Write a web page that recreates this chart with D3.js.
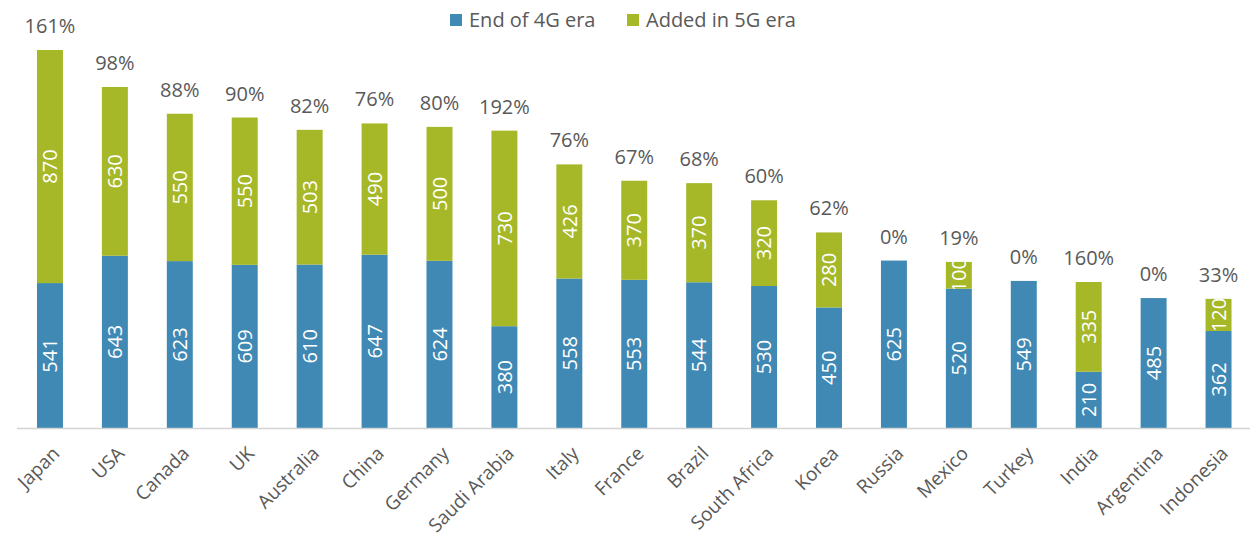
<!DOCTYPE html>
<html>
<head>
<meta charset="utf-8">
<script src="https://cdn.jsdelivr.net/npm/d3@7"></script>
<style>
  body { margin: 0; background: #fff; }
  text { font-family: 'Open Sans', 'Noto Sans', sans-serif; }
</style>
</head>
<body>
<div id="chart"></div>
<script>
const countries = ['Japan', 'USA', 'Canada', 'UK', 'Australia', 'China', 'Germany', 'Saudi Arabia', 'Italy', 'France',
  'Brazil', 'South Africa', 'Korea', 'Russia', 'Mexico', 'Turkey', 'India', 'Argentina', 'Indonesia'];
const end4G = [541, 643, 623, 609, 610, 647, 624, 380, 558, 553, 544, 530, 450, 625, 520, 549, 210, 485, 362];
const added5G = [870, 630, 550, 550, 503, 490, 500, 730, 426, 370, 370, 320, 280, 0, 100, 0, 335, 0, 120];
const pctLabels = ['161%', '98%', '88%', '90%', '82%', '76%', '80%', '192%', '76%', '67%',
  '68%', '60%', '62%', '0%', '19%', '0%', '160%', '0%', '33%'];
const seriesNames = ['End of 4G era', 'Added in 5G era'];
const colors = ['#3f89b4', '#a6b828'];

const W = 1250, H = 547;
const baseY = 428;

const svg = d3.select('#chart').append('svg')
  .attr('width', W).attr('height', H);

const x = d3.scaleBand()
  .domain(countries)
  .range([17.5, 1251])
  .paddingInner(0.6)
  .paddingOuter(0.3);

const y = d3.scaleLinear()
  .domain([0, 1500])
  .range([baseY, baseY - 1500 * 0.2679]);

const rows = countries.map(function(c, i) {
  return { country: c, a: end4G[i], b: added5G[i], pct: pctLabels[i] };
});

// segments
const segs = [];
rows.forEach(function(r, i) {
  segs.push({ country: r.country, y0: 0, y1: r.a, v: r.a, s: 0, id: 'c' + i + 'a' });
  if (r.b > 0) segs.push({ country: r.country, y0: r.a, y1: r.a + r.b, v: r.b, s: 1, id: 'c' + i + 'b' });
});

const defs = svg.append('defs');
defs.selectAll('clipPath').data(segs).enter().append('clipPath')
    .attr('id', function(d) { return d.id; })
  .append('rect')
    .attr('x', function(d) { return x(d.country); })
    .attr('y', function(d) { return y(d.y1); })
    .attr('width', x.bandwidth())
    .attr('height', function(d) { return y(d.y0) - y(d.y1); });

svg.append('g').selectAll('rect').data(segs).enter().append('rect')
    .attr('x', function(d) { return x(d.country); })
    .attr('y', function(d) { return y(d.y1); })
    .attr('width', x.bandwidth())
    .attr('height', function(d) { return y(d.y0) - y(d.y1); })
    .style('fill', function(d) { return colors[d.s]; });

// value labels inside the bars
svg.append('g').selectAll('g').data(segs).enter().append('g')
    .attr('clip-path', function(d) { return 'url(#' + d.id + ')'; })
  .append('text')
    .attr('transform', function(d) {
      const cx = x(d.country) + x.bandwidth() / 2;
      const cy = (y(d.y0) + y(d.y1)) / 2;
      return 'translate(' + cx + ',' + cy + ') rotate(-90)';
    })
    .attr('text-anchor', 'middle')
    .attr('dy', '0.36em')
    .style('font-size', '20px')
    .style('fill', '#fff')
    .text(function(d) { return d.v; });

// percent labels above
svg.append('g').selectAll('text').data(rows).enter().append('text')
    .attr('x', function(d) { return x(d.country) + x.bandwidth() / 2; })
    .attr('y', function(d) { return y(d.a + d.b) - 17; })
    .attr('text-anchor', 'middle')
    .style('font-size', '20px')
    .style('fill', '#595959')
    .text(function(d) { return d.pct; });

// x axis
const xAxis = svg.append('g')
    .attr('transform', 'translate(0,' + baseY + ')')
    .call(d3.axisBottom(x).tickSize(0).tickSizeOuter(0));
xAxis.select('.domain').remove();
xAxis.append('line')
    .attr('x1', 17).attr('x2', 1250)
    .attr('y1', 0.5).attr('y2', 0.5)
    .style('stroke', '#d4d4d4').style('stroke-width', 1.5);
xAxis.selectAll('.tick text')
    .attr('transform', 'translate(6,22) rotate(-45)')
    .attr('text-anchor', 'end')
    .attr('dy', '0.35em')
    .attr('y', 0)
    .style('font-family', "'Open Sans', 'Noto Sans', sans-serif")
    .style('font-size', '19px')
    .style('fill', '#595959');

// legend
const legend = svg.append('g').attr('transform', 'translate(450,20)');
const legX = [0, 177];
seriesNames.forEach(function(n, i) {
  const g = legend.append('g').attr('transform', 'translate(' + legX[i] + ',0)');
  g.append('rect').attr('x', 0).attr('y', -6).attr('width', 12).attr('height', 12)
    .style('fill', colors[i]);
  g.append('text').attr('x', 19).attr('y', 0).attr('dy', '0.35em')
    .style('font-size', '20px').style('fill', '#595959').text(n);
});
</script>
</body>
</html>
